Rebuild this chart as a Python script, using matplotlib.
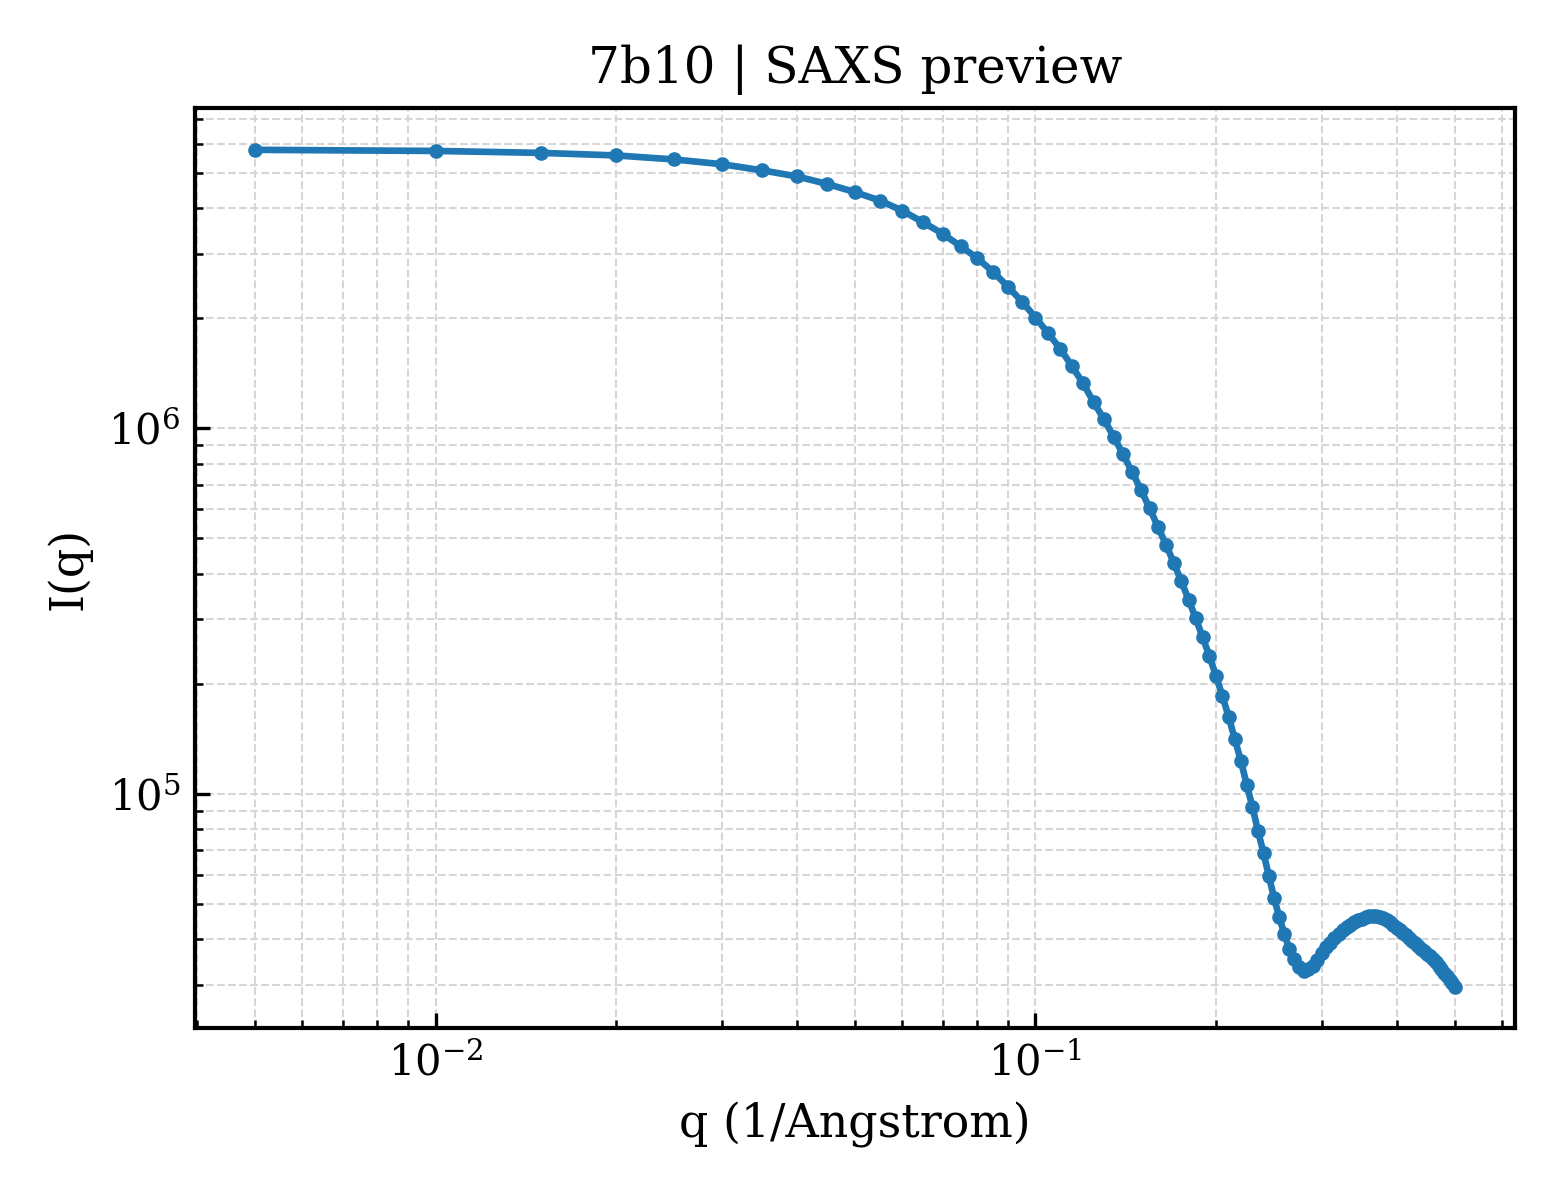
import matplotlib
matplotlib.use("Agg")
import matplotlib.pyplot as plt

# q grid (1/Angstrom) as sampled in the preview
q = [0.005, 0.010, 0.015, 0.020, 0.025, 0.030, 0.035, 0.040, 0.045, 0.050,
     0.055, 0.060, 0.065, 0.070, 0.075, 0.080, 0.085, 0.090, 0.095, 0.100,
     0.105, 0.110, 0.115, 0.120, 0.125, 0.130, 0.135, 0.140, 0.145, 0.150,
     0.155, 0.160, 0.165, 0.170, 0.175, 0.180, 0.185, 0.190, 0.195, 0.200,
     0.205, 0.210, 0.215, 0.220, 0.225, 0.230, 0.235, 0.240, 0.245, 0.250,
     0.255, 0.260, 0.265, 0.270, 0.275, 0.280, 0.285, 0.290, 0.295, 0.300,
     0.305, 0.310, 0.315, 0.320, 0.325, 0.330, 0.335, 0.340, 0.345, 0.350,
     0.355, 0.360, 0.365, 0.370, 0.375, 0.380, 0.385, 0.390, 0.395, 0.400,
     0.405, 0.410, 0.415, 0.420, 0.425, 0.430, 0.435, 0.440, 0.445, 0.450,
     0.455, 0.460, 0.465, 0.470, 0.475, 0.480, 0.485, 0.490, 0.495, 0.500]

# intensity
intensity = [
    5.78e6, 5.74e6, 5.67e6, 5.58e6, 5.44e6, 5.28e6, 5.08e6, 4.89e6, 4.66e6, 4.43e6,
    4.20e6, 3.94e6, 3.66e6, 3.41e6, 3.15e6, 2.92e6, 2.68e6, 2.44e6, 2.22e6, 2.01e6,
    1.82e6, 1.65e6, 1.48e6, 1.33e6, 1.18e6, 1.06e6, 9.49e5, 8.49e5, 7.58e5, 6.78e5,
    6.04e5, 5.38e5, 4.81e5, 4.29e5, 3.82e5, 3.40e5, 3.02e5, 2.68e5, 2.38e5, 2.10e5,
    1.85e5, 1.62e5, 1.41e5, 1.23e5, 1.06e5, 9.20e4, 7.90e4, 6.88e4, 5.95e4, 5.18e4,
    4.59e4, 4.13e4, 3.76e4, 3.53e4, 3.35e4, 3.28e4, 3.32e4, 3.39e4, 3.51e4, 3.67e4,
    3.80e4, 3.92e4, 4.03e4, 4.13e4, 4.23e4, 4.31e4, 4.38e4, 4.45e4, 4.51e4, 4.56e4,
    4.60e4, 4.63e4, 4.63e4, 4.62e4, 4.60e4, 4.57e4, 4.52e4, 4.45e4, 4.38e4, 4.30e4,
    4.23e4, 4.16e4, 4.10e4, 4.03e4, 3.96e4, 3.90e4, 3.84e4, 3.77e4, 3.72e4, 3.65e4,
    3.60e4, 3.53e4, 3.46e4, 3.39e4, 3.32e4, 3.24e4, 3.17e4, 3.10e4, 3.03e4, 2.97e4,
]

title = "7b10 | SAXS preview"
x_label = "q (1/Angstrom)"
y_label = "I(q)"

plt.rcParams["font.family"] = ["DejaVu Serif"]
plt.rcParams["mathtext.fontset"] = "dejavuserif"

fig, ax = plt.subplots(figsize=(5.2, 4.0), dpi=300)
fig.subplots_adjust(left=0.125, right=0.971, top=0.91, bottom=0.143)

ax.plot(q, intensity, color="#1f77b4", marker="o", markersize=2.5,
        linewidth=1.6)
ax.set_xscale("log")
ax.set_yscale("log")

ax.set_title(title, fontsize=12)
ax.set_xlabel(x_label, fontsize=11)
ax.set_ylabel(y_label, fontsize=11)

ax.tick_params(which="both", direction="in", labelsize=10)
ax.grid(True, which="both", linestyle="--", linewidth=0.5, color="#d6d6d6")
ax.set_axisbelow(True)

for side in ax.spines.values():
    side.set_linewidth(1.0)

fig.savefig("out.png", dpi=300)
